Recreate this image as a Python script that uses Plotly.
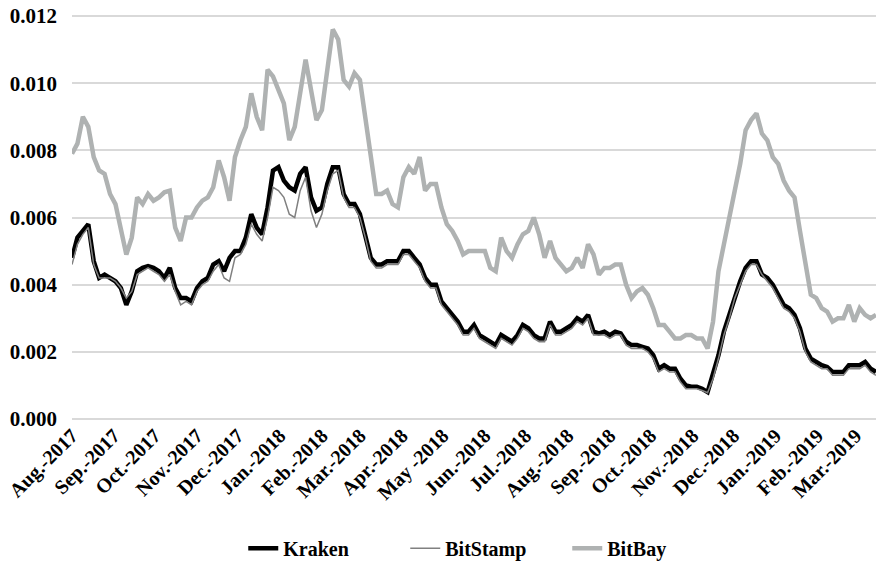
import pandas as pd
import plotly.graph_objects as go

# Sample dates: every 4 days from 1 Aug 2017 (149 samples)
dates = pd.date_range("2017-08-01", periods=149, freq="4D")

kraken = [
    0.0048, 0.0054, 0.0056, 0.0058, 0.0047, 0.0042, 0.0043, 0.0042, 0.0041, 0.0039,
    0.0034, 0.0038, 0.0044, 0.0045, 0.00455, 0.0045, 0.0044, 0.0042, 0.0045, 0.0039,
    0.0036, 0.0036, 0.0035, 0.0039, 0.0041, 0.0042, 0.0046, 0.0047, 0.0044, 0.0048,
    0.0050, 0.0050, 0.0054, 0.0061, 0.0057, 0.0055, 0.0063, 0.0074, 0.0075, 0.0071,
    0.0069, 0.0068, 0.0073, 0.0075, 0.0066, 0.0062, 0.0063, 0.0070, 0.0075, 0.0075,
    0.0067, 0.0064, 0.0064, 0.0061, 0.0055, 0.0048, 0.0046, 0.0046, 0.0047, 0.0047,
    0.0047, 0.0050, 0.0050, 0.0048, 0.0046, 0.0042, 0.0040, 0.0040, 0.0035, 0.0033,
    0.0031, 0.0029, 0.0026, 0.0026, 0.0028, 0.0025, 0.0024, 0.0023, 0.0022, 0.0025,
    0.0024, 0.0023, 0.0025, 0.0028, 0.0027, 0.0025, 0.0024, 0.0024, 0.0029, 0.0026,
    0.0026, 0.0027, 0.0028, 0.0030, 0.0029, 0.0031, 0.0026, 0.00255, 0.0026, 0.0025,
    0.0026, 0.00255, 0.0023, 0.0022, 0.0022, 0.00215, 0.0021, 0.0019, 0.0015, 0.0016,
    0.0015, 0.0015, 0.0012, 0.0010, 0.00096, 0.00096, 0.0009, 0.0008, 0.0013, 0.0019,
    0.0026, 0.0031, 0.0037, 0.0041, 0.0045, 0.0047, 0.0047, 0.0043, 0.0042, 0.0040,
    0.0037, 0.0034, 0.0033, 0.0031, 0.0027, 0.0021, 0.0018, 0.0017, 0.0016, 0.00155,
    0.0014, 0.0014, 0.0014, 0.0016, 0.0016, 0.0016, 0.0017, 0.0015, 0.0014,
]

bitstamp = [
    0.0046, 0.0052, 0.0055, 0.0057, 0.0046, 0.0042, 0.0042, 0.0042, 0.0041, 0.0039,
    0.0036, 0.0038, 0.0043, 0.0044, 0.0045, 0.0044, 0.0043, 0.0041, 0.0043, 0.0038,
    0.0034, 0.0035, 0.0034, 0.0038, 0.0040, 0.0041, 0.0044, 0.0046, 0.0042, 0.0041,
    0.0048, 0.0049, 0.0052, 0.0058, 0.0055, 0.0053, 0.0060, 0.0069, 0.0068, 0.0066,
    0.0061, 0.0060, 0.0068, 0.0072, 0.0062, 0.0057, 0.0061, 0.0068, 0.0073, 0.0074,
    0.0066, 0.0063, 0.0063, 0.0060, 0.0054, 0.0047, 0.0045, 0.0045, 0.0046, 0.0046,
    0.0046, 0.0049, 0.0049, 0.0047, 0.0045, 0.0041, 0.0039, 0.0039, 0.0034, 0.0032,
    0.0030, 0.0028, 0.0025, 0.0025, 0.0027, 0.0024, 0.0023, 0.0022, 0.0021, 0.0024,
    0.0023, 0.0022, 0.0024, 0.0027, 0.0026, 0.0024, 0.0023, 0.0023, 0.0028, 0.0025,
    0.0025, 0.0026, 0.0027, 0.0029, 0.0028, 0.0030, 0.0025, 0.0025, 0.0025, 0.0024,
    0.0025, 0.0025, 0.0022, 0.0021, 0.0021, 0.0021, 0.0020, 0.0018, 0.0014, 0.0015,
    0.0014, 0.0014, 0.0011, 0.0009, 0.0009, 0.0009, 0.00085, 0.00078, 0.0012, 0.0018,
    0.0025, 0.0030, 0.0036, 0.0040, 0.0044, 0.0046, 0.0046, 0.0043, 0.0041, 0.0039,
    0.0036, 0.0033, 0.0032, 0.0030, 0.0026, 0.0020, 0.0017, 0.0016, 0.0015, 0.0015,
    0.0013, 0.0013, 0.0013, 0.0015, 0.0015, 0.0015, 0.0016, 0.0014, 0.0013,
]

bitbay = [
    0.0079, 0.0082, 0.0090, 0.0087, 0.0078, 0.0074, 0.0073, 0.0067, 0.0064, 0.0057,
    0.0049, 0.0054, 0.0066, 0.0064, 0.0067, 0.0065, 0.0066, 0.00675, 0.0068, 0.0057,
    0.0053, 0.0060, 0.0060, 0.0063, 0.0065, 0.0066, 0.0069, 0.0077, 0.0072, 0.0065,
    0.0078, 0.0083, 0.0087, 0.0097, 0.0090, 0.0086, 0.0104, 0.0102, 0.0098, 0.0094,
    0.0083, 0.0087, 0.0097, 0.0107, 0.0098, 0.0089, 0.0092, 0.0104, 0.0116, 0.0113,
    0.0101, 0.0099, 0.0103, 0.0101, 0.0090, 0.0077, 0.0067, 0.0067, 0.0068, 0.0064,
    0.0063, 0.0072, 0.0075, 0.0073, 0.0078, 0.0068, 0.0070, 0.0070, 0.0063, 0.0058,
    0.0056, 0.0053, 0.0049, 0.0050, 0.0050, 0.0050, 0.0050, 0.0045, 0.0044, 0.0054,
    0.0050, 0.0048, 0.0052, 0.0055, 0.0056, 0.0060, 0.0055, 0.0048, 0.0053, 0.0048,
    0.0046, 0.0044, 0.0045, 0.0048, 0.0045, 0.0052, 0.0049, 0.0043, 0.0045, 0.0045,
    0.0046, 0.0046, 0.0040, 0.0036, 0.0038, 0.0039, 0.0037, 0.0033, 0.0028, 0.0028,
    0.0026, 0.0024, 0.0024, 0.0025, 0.0025, 0.0024, 0.0024, 0.0021, 0.0029, 0.0044,
    0.0052, 0.0060, 0.0068, 0.0076, 0.0086, 0.0089, 0.0091, 0.0085, 0.0083, 0.0078,
    0.0076, 0.0071, 0.0068, 0.0066, 0.0056, 0.0046, 0.0037, 0.0036, 0.0033, 0.0032,
    0.0029, 0.0030, 0.0030, 0.0034, 0.0029, 0.0033, 0.0031, 0.0030, 0.0031,
]

tick_dates = pd.date_range("2017-08-01", "2019-03-01", freq="MS")
tick_labels = [
    "Aug.-2017", "Sep.-2017", "Oct.-2017", "Nov.-2017", "Dec.-2017",
    "Jan.-2018", "Feb.-2018", "Mar.-2018", "Apr.-2018", "May -2018",
    "Jun.-2018", "Jul.-2018", "Aug.-2018", "Sep.-2018", "Oct.-2018",
    "Nov.-2018", "Dec.-2018", "Jan.-2019", "Feb.-2019", "Mar.-2019",
]
y_ticks = [0.000, 0.002, 0.004, 0.006, 0.008, 0.010, 0.012]

FONT = "Liberation Serif"

fig = go.Figure()
fig.add_trace(go.Scatter(x=dates, y=kraken, name="Kraken", mode="lines",
                         line=dict(color="#000000", width=4.5)))
fig.add_trace(go.Scatter(x=dates, y=bitstamp, name="BitStamp", mode="lines",
                         line=dict(color="#808080", width=1.5)))
fig.add_trace(go.Scatter(x=dates, y=bitbay, name="BitBay", mode="lines",
                         line=dict(color="#AFB2B2", width=4.5)))

fig.update_layout(
    width=876, height=569,
    margin=dict(l=72, r=0, t=15, b=150),
    paper_bgcolor="white", plot_bgcolor="white",
    font=dict(family=FONT, color="#000000"),
    showlegend=True,
    legend=dict(orientation="h", x=0.213, xanchor="left", y=-0.32, yanchor="middle",
                font=dict(family=FONT, size=20, weight="bold"),
                bgcolor="rgba(0,0,0,0)", entrywidth=117),
)
fig.update_xaxes(
    type="date",
    range=[dates[0], dates[-1]],
    tickvals=list(tick_dates), ticktext=tick_labels,
    tickangle=-45,
    tickfont=dict(family=FONT, size=20, weight="bold"),
    showgrid=False, showline=False, zeroline=False, ticks="",
    automargin=False, ticklabeloverflow="allow",
)
fig.update_yaxes(
    range=[0, 0.01203],
    tickvals=y_ticks, tickformat=".3f",
    tickfont=dict(family=FONT, size=21, weight="bold"),
    showgrid=True, gridcolor="#D9D9D9", gridwidth=1.5,
    zeroline=True, zerolinecolor="#D9D9D9", zerolinewidth=1.5,
    showline=False, ticks="", ticklabelstandoff=14,
    automargin=False, ticklabeloverflow="allow",
)

# Remove the default page margin so the figure fills the 876x569 window.
fig.write_html("out.html", config={"displayModeBar": False},
               post_script="document.body.style.margin='0';")
